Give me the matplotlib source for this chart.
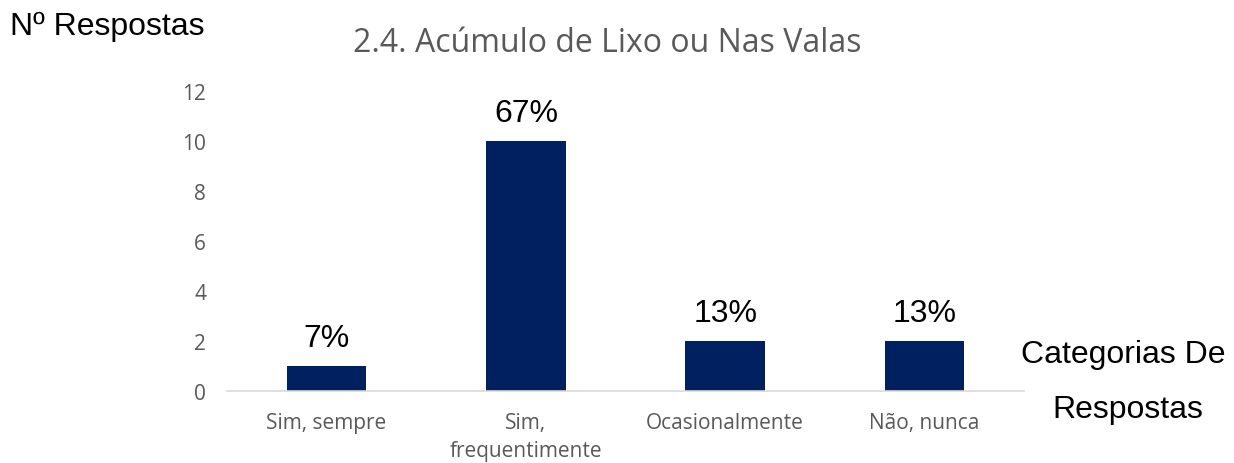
import matplotlib
matplotlib.use("Agg")
import matplotlib.pyplot as plt

categories = ["Sim, sempre", "Sim,\nfrequentimente", "Ocasionalmente", "Não, nunca"]
values = [1, 10, 2, 2]
labels = ["7%", "67%", "13%", "13%"]
yticks = [0, 2, 4, 6, 8, 10, 12]

fig = plt.figure(figsize=(12.34, 4.64), dpi=100)
ax = fig.add_axes([227/1234, 72/464, (1024-227)/1234, 300/464])

x = range(len(categories))
bars = ax.bar(x, values, width=0.4, color="#002060", zorder=2)
for xi, v, lab in zip(x, values, labels):
    ax.text(xi, v + 0.5, lab, ha="center", va="bottom", fontsize=23,
            family="Liberation Sans", color="black")

ax.set_xlim(-0.5, 3.5)
ax.set_ylim(0, 12)
ax.set_yticks(yticks)
ax.set_xticks(list(x))
ax.set_xticklabels(categories, family="Open Sans", fontsize=15, color="#595959",
                   linespacing=1.45)
ax.set_yticklabels([str(t) for t in yticks], family="Open Sans", fontsize=15, color="#595959")
ax.tick_params(axis="both", length=0)
ax.tick_params(axis="x", pad=15)
ax.tick_params(axis="y", pad=15)
for s in ["top", "right", "left"]:
    ax.spines[s].set_visible(False)
ax.spines["bottom"].set_color("#D9D9D9")
ax.spines["bottom"].set_linewidth(1.2)

fig.text(607/1234, 1 - 43/464, "2.4. Acúmulo de Lixo ou Nas Valas", ha="center", va="center",
         fontsize=23, family="Open Sans", color="#595959")
fig.text(10/1234, 1 - 27/464, "Nº Respostas", ha="left", va="center",
         fontsize=23, family="Liberation Sans", color="black")
fig.text(1123/1234, 1 - 355/464, "Categorias De", ha="center", va="center",
         fontsize=23, family="Liberation Sans", color="black")
fig.text(1128/1234, 1 - 410/464, "Respostas", ha="center", va="center",
         fontsize=23, family="Liberation Sans", color="black")

fig.savefig("out.png", dpi=100, facecolor="white")
